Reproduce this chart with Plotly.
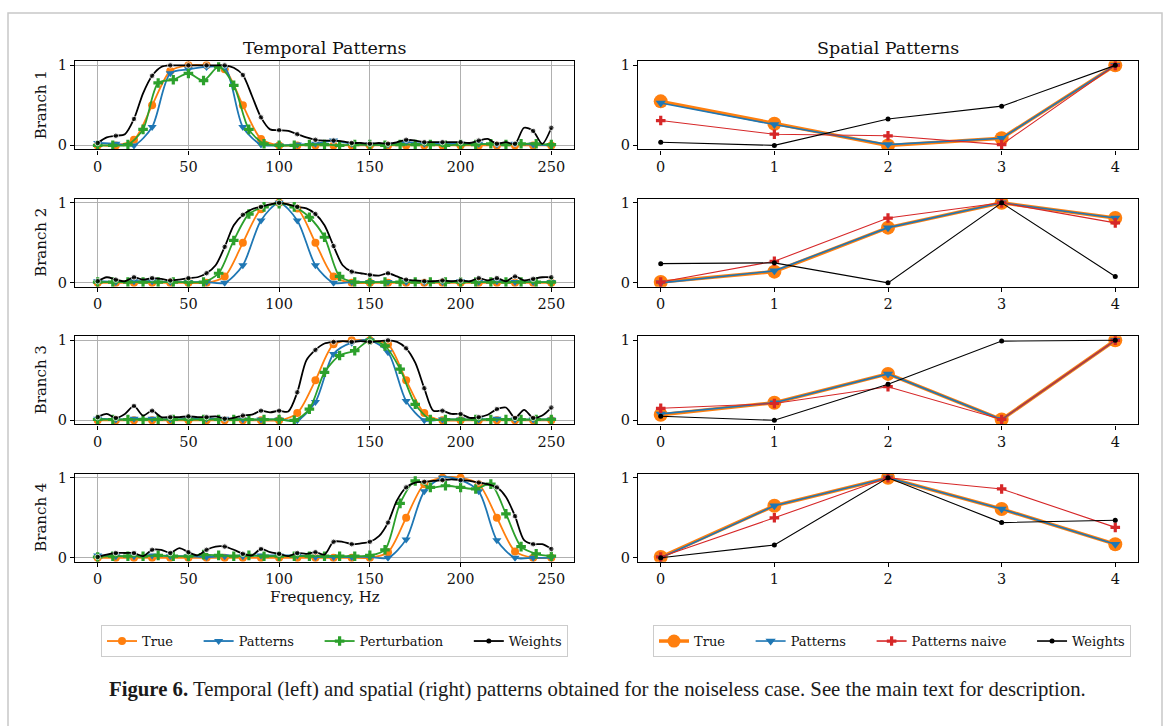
import plotly.graph_objects as go

# ---------------- data ----------------
FREQ_10 = list(range(0, 251, 10))          # marker grid for True / Patterns
FREQ_5 = list(range(0, 251, 5))            # Weights samples (markers every 10 Hz)
FREQ_PERT = [round(i * 250 / 30, 3) for i in range(31)]  # Perturbation samples
SENSORS = [0, 1, 2, 3, 4]
FREQ_TICKS = [0, 50, 100, 150, 200, 250]
BRANCHES = ["Branch 1", "Branch 2", "Branch 3", "Branch 4"]

# Temporal patterns, branch 1
TRUE_T1 = [0, 0, 0.07, 0.5, 0.93, 1, 1, 0.95, 0.5, 0.08, 0, 0, 0, 0, 0, 0, 0, 0, 0, 0, 0, 0, 0, 0, 0, 0]
PAT_T1 = [0.03, 0.02, 0.0, 0.23, 0.9, 0.95, 0.98, 0.97, 0.23, 0.01, 0.0, 0.01, 0.02, 0.06, 0.02, 0.01,
          0.01, 0.04, 0.02, 0.02, 0.02, 0.02, 0.01, 0.02, 0.01, 0.0]
PERT_T1 = [0.0, 0.0, 0.01, 0.2, 0.78, 0.82, 0.9, 0.81, 0.98, 0.75, 0.2, 0.02, 0.0, 0.0, 0.01, 0.01,
           0.0, 0.01, 0.01, 0.0, 0.01, 0.01, 0.01, 0.0, 0.01, 0.01, 0.02, 0.01, 0.02, 0.02, 0.01]
W_T1 = [0.03, 0.1, 0.12, 0.14, 0.33, 0.65, 0.87, 0.98, 1.0, 1.0, 1.0, 1.0, 1.0, 1.0, 1.0, 0.97, 0.88,
        0.62, 0.35, 0.2, 0.19, 0.18, 0.14, 0.1, 0.07, 0.06, 0.06, 0.05, 0.03, 0.03, 0.02, 0.03, 0.02,
        0.04, 0.07, 0.06, 0.04, 0.04, 0.04, 0.04, 0.04, 0.03, 0.06, 0.08, 0.02, 0.04, 0.02, 0.22, 0.18,
        0.02, 0.22]

# branch 2
TRUE_T2 = [0, 0, 0, 0, 0, 0, 0, 0.08, 0.5, 0.92, 1, 0.93, 0.5, 0.08, 0, 0, 0, 0, 0, 0, 0, 0, 0, 0, 0, 0]
PAT_T2 = [0.02, 0.01, 0.02, 0.02, 0.01, 0.01, 0.01, 0.0, 0.22, 0.78, 1.0, 0.78, 0.22, 0.0, 0.01, 0.01,
          0.01, 0.01, 0.01, 0.01, 0.02, 0.01, 0.02, 0.01, 0.01, 0.01]
PERT_T2 = [0.01, 0.01, 0.01, 0.01, 0.01, 0.01, 0.01, 0.01, 0.12, 0.53, 0.86, 0.95, 0.99, 0.95, 0.82,
           0.57, 0.08, 0.01, 0.01, 0.01, 0.01, 0.01, 0.01, 0.01, 0.01, 0.01, 0.01, 0.01, 0.01, 0.01, 0.01]
W_T2 = [0.02, 0.07, 0.04, 0.02, 0.07, 0.04, 0.06, 0.05, 0.03, 0.04, 0.06, 0.07, 0.12, 0.22, 0.45, 0.72,
        0.85, 0.92, 0.95, 0.98, 1.0, 0.98, 0.95, 0.93, 0.86, 0.72, 0.46, 0.22, 0.14, 0.12, 0.1, 0.09,
        0.12, 0.08, 0.04, 0.03, 0.02, 0.02, 0.03, 0.02, 0.03, 0.02, 0.06, 0.03, 0.06, 0.02, 0.08, 0.03,
        0.05, 0.07, 0.07]

# branch 3
TRUE_T3 = [0, 0, 0, 0, 0, 0, 0, 0, 0, 0, 0, 0.09, 0.5, 0.95, 1, 1, 0.95, 0.5, 0.09, 0, 0, 0, 0, 0, 0, 0]
PAT_T3 = [0.02, 0.01, 0.02, 0.02, 0.01, 0.02, 0.02, 0.02, 0.01, 0.01, 0.01, 0.0, 0.23, 0.83, 0.97, 1.0,
          0.85, 0.24, 0.0, 0.01, 0.01, 0.01, 0.02, 0.01, 0.01, 0.01]
PERT_T3 = [0.01, 0.01, 0.01, 0.01, 0.01, 0.01, 0.01, 0.01, 0.01, 0.01, 0.01, 0.01, 0.01, 0.0, 0.14, 0.6,
           0.81, 0.87, 1.0, 0.93, 0.64, 0.2, 0.01, 0.01, 0.01, 0.01, 0.01, 0.01, 0.01, 0.01, 0.01]
W_T3 = [0.04, 0.08, 0.03, 0.08, 0.18, 0.06, 0.12, 0.04, 0.04, 0.04, 0.05, 0.04, 0.04, 0.05, 0.02, 0.03,
        0.06, 0.07, 0.12, 0.1, 0.12, 0.11, 0.35, 0.75, 0.88, 0.96, 0.98, 0.99, 0.98, 0.99, 0.98, 0.99,
        1.0, 0.98, 0.9, 0.72, 0.4, 0.12, 0.12, 0.08, 0.08, 0.03, 0.04, 0.07, 0.14, 0.16, 0.03, 0.13,
        0.03, 0.06, 0.16]

# branch 4
TRUE_T4 = [0, 0, 0, 0, 0, 0, 0, 0, 0, 0, 0, 0, 0, 0, 0, 0, 0.07, 0.5, 0.92, 1, 1, 0.92, 0.5, 0.08, 0, 0]
PAT_T4 = [0.03, 0.02, 0.02, 0.03, 0.02, 0.02, 0.01, 0.02, 0.02, 0.03, 0.03, 0.03, 0.01, 0.01, 0.01, 0.01,
          0.0, 0.23, 0.83, 1.0, 0.97, 0.83, 0.22, 0.0, 0.0, 0.0]
PERT_T4 = [0.01, 0.02, 0.02, 0.02, 0.03, 0.02, 0.02, 0.04, 0.03, 0.02, 0.03, 0.02, 0.02, 0.02, 0.02, 0.02,
           0.02, 0.02, 0.03, 0.1, 0.68, 0.96, 0.88, 0.9, 0.88, 0.86, 0.92, 0.55, 0.14, 0.05, 0.02]
W_T4 = [0.01, 0.04, 0.06, 0.06, 0.06, 0.02, 0.1, 0.1, 0.06, 0.12, 0.07, 0.03, 0.1, 0.14, 0.14, 0.1, 0.05,
        0.03, 0.11, 0.07, 0.05, 0.02, 0.06, 0.05, 0.07, 0.04, 0.2, 0.2, 0.17, 0.18, 0.2, 0.27, 0.44,
        0.72, 0.88, 0.94, 0.95, 0.96, 0.97, 0.98, 0.97, 0.96, 0.94, 0.92, 0.88, 0.76, 0.52, 0.22, 0.17,
        0.17, 0.11]

# Spatial patterns
TRUE_S1 = [0.55, 0.27, 0.0, 0.09, 1.0]
PAT_S1 = [0.53, 0.26, 0.01, 0.09, 1.0]
NAIVE_S1 = [0.31, 0.14, 0.12, 0.01, 1.0]
W_S1 = [0.04, 0.0, 0.33, 0.49, 1.0]

TRUE_S2 = [0.01, 0.14, 0.69, 1.0, 0.81]
PAT_S2 = [0.0, 0.15, 0.69, 1.0, 0.81]
NAIVE_S2 = [0.01, 0.27, 0.81, 1.0, 0.75]
W_S2 = [0.24, 0.25, 0.0, 1.0, 0.08]

TRUE_S3 = [0.07, 0.22, 0.58, 0.01, 1.0]
PAT_S3 = [0.08, 0.22, 0.58, 0.01, 1.0]
NAIVE_S3 = [0.15, 0.21, 0.42, 0.01, 1.0]
W_S3 = [0.05, 0.0, 0.45, 0.99, 1.0]

TRUE_S4 = [0.01, 0.65, 1.0, 0.61, 0.17]
PAT_S4 = [0.0, 0.65, 1.0, 0.61, 0.17]
NAIVE_S4 = [0.01, 0.5, 1.0, 0.86, 0.38]
W_S4 = [0.0, 0.16, 1.0, 0.44, 0.47]

TEMPORAL = [(TRUE_T1, PAT_T1, PERT_T1, W_T1), (TRUE_T2, PAT_T2, PERT_T2, W_T2),
            (TRUE_T3, PAT_T3, PERT_T3, W_T3), (TRUE_T4, PAT_T4, PERT_T4, W_T4)]
SPATIAL = [(TRUE_S1, PAT_S1, NAIVE_S1, W_S1), (TRUE_S2, PAT_S2, NAIVE_S2, W_S2),
           (TRUE_S3, PAT_S3, NAIVE_S3, W_S3), (TRUE_S4, PAT_S4, NAIVE_S4, W_S4)]

# ---------------- style ----------------
W, H = 1170, 726
ORANGE, BLUE, GREEN, RED, BLACK = "#ff7f0e", "#1f77b4", "#2ca02c", "#d62728", "#000000"
FONT = "DejaVu Serif"
ROWS_PX = [(58, 147), (197, 286), (336, 425), (475, 564)]
LEFT_DOM = [75 / W, 574 / W]
RIGHT_DOM = [638 / W, 1138 / W]
PAD = "\u00a0" * 5

fig = go.Figure()
layout_axes = {}


def axname(i, letter):
    return f"{letter}axis" if i == 1 else f"{letter}axis{i}"


def ref(i, letter):
    return letter if i == 1 else f"{letter}{i}"


common_axis = dict(showline=True, mirror=True, linecolor="black", linewidth=1.4, ticks="outside",
                   ticklen=4, tickwidth=1.1, tickcolor="black", zeroline=False,
                   tickfont=dict(family=FONT, size=14.5, color="#111"))

for r in range(4):
    top, bot = ROWS_PX[r]
    ydom = [1 - bot / H, 1 - top / H]
    it = 2 * r + 1
    isp = 2 * r + 2
    layout_axes[axname(it, "x")] = dict(common_axis, domain=LEFT_DOM, range=[-12.5, 262.5],
                                        tickvals=FREQ_TICKS, showgrid=True, gridcolor="#b0b0b0",
                                        gridwidth=1.2, anchor=ref(it, "y"))
    layout_axes[axname(it, "y")] = dict(common_axis, domain=ydom, range=[-0.05, 1.05], tickvals=[0, 1],
                                        showgrid=True, gridcolor="#b0b0b0", gridwidth=1.2,
                                        anchor=ref(it, "x"))
    layout_axes[axname(isp, "x")] = dict(common_axis, domain=RIGHT_DOM, range=[-0.2, 4.2],
                                         tickvals=SENSORS, showgrid=False, anchor=ref(isp, "y"))
    layout_axes[axname(isp, "y")] = dict(common_axis, domain=ydom, range=[-0.05, 1.05], tickvals=[0, 1],
                                         showgrid=False, anchor=ref(isp, "x"))

    tr, pa, pe, wt = TEMPORAL[r]
    xa, ya = ref(it, "x"), ref(it, "y")
    fig.add_trace(go.Scatter(x=FREQ_10, y=tr, mode="lines+markers", line=dict(color=ORANGE, width=1.8, shape="spline", smoothing=0.8),
                             marker=dict(symbol="circle", size=8, color=ORANGE), xaxis=xa, yaxis=ya, showlegend=False))
    fig.add_trace(go.Scatter(x=FREQ_10, y=pa, mode="lines+markers", line=dict(color=BLUE, width=1.8, shape="spline", smoothing=0.8),
                             marker=dict(symbol="triangle-down", size=8, color=BLUE), xaxis=xa, yaxis=ya, showlegend=False))
    fig.add_trace(go.Scatter(x=FREQ_PERT, y=pe, mode="lines+markers", line=dict(color=GREEN, width=1.8, shape="spline", smoothing=0.8),
                             marker=dict(symbol="cross", size=8, color=GREEN), xaxis=xa, yaxis=ya, showlegend=False))
    wsizes = [5.5 if f % 10 == 0 else 0 for f in FREQ_5]
    fig.add_trace(go.Scatter(x=FREQ_5, y=wt, mode="lines+markers", line=dict(color=BLACK, width=1.8, shape="spline", smoothing=0.8),
                             marker=dict(symbol="circle", size=wsizes, color=BLACK), xaxis=xa, yaxis=ya, showlegend=False))

    st, sp, sn, sw = SPATIAL[r]
    xa, ya = ref(isp, "x"), ref(isp, "y")
    fig.add_trace(go.Scatter(x=SENSORS, y=st, mode="lines+markers", line=dict(color=ORANGE, width=3.5),
                             marker=dict(symbol="circle", size=14, color=ORANGE), xaxis=xa, yaxis=ya, showlegend=False))
    fig.add_trace(go.Scatter(x=SENSORS, y=sp, mode="lines+markers", line=dict(color=BLUE, width=1.6),
                             marker=dict(symbol="triangle-down", size=9, color=BLUE), xaxis=xa, yaxis=ya, showlegend=False))
    fig.add_trace(go.Scatter(x=SENSORS, y=sn, mode="lines+markers", line=dict(color=RED, width=1.1),
                             marker=dict(symbol="cross", size=8, color=RED), xaxis=xa, yaxis=ya, showlegend=False))
    fig.add_trace(go.Scatter(x=SENSORS, y=sw, mode="lines+markers", line=dict(color=BLACK, width=1.1),
                             marker=dict(symbol="circle", size=5, color=BLACK), xaxis=xa, yaxis=ya, showlegend=False))

# legend entries
left_items = [("True" + PAD, ORANGE, "circle", 8, 1.8), ("Patterns" + PAD, BLUE, "triangle-down", 8, 1.8),
              ("Perturbation" + PAD, GREEN, "cross", 8, 1.8), ("Weights", BLACK, "circle", 5, 1.8)]
for name, col, sym, sz, lw in left_items:
    fig.add_trace(go.Scatter(x=[None], y=[None], mode="lines+markers", name=name, legend="legend",
                             line=dict(color=col, width=lw), marker=dict(symbol=sym, size=sz, color=col),
                             xaxis="x", yaxis="y"))
right_items = [("True" + PAD, ORANGE, "circle", 13, 3.5), ("Patterns" + PAD, BLUE, "triangle-down", 9, 1.6),
               ("Patterns naive" + PAD, RED, "cross", 8, 1.6), ("Weights", BLACK, "circle", 5, 1.6)]
for name, col, sym, sz, lw in right_items:
    fig.add_trace(go.Scatter(x=[None], y=[None], mode="lines+markers", name=name, legend="legend2",
                             line=dict(color=col, width=lw), marker=dict(symbol=sym, size=sz, color=col),
                             xaxis="x2", yaxis="y2"))

legend_common = dict(orientation="h", xanchor="left", yanchor="top", y=1 - 628 / H,
                     bordercolor="#cccccc", borderwidth=1, bgcolor="white",
                     font=dict(family=FONT, size=13, color="#111"))

annotations = [
    dict(text="Temporal Patterns", x=(75 + 574) / 2 / W, y=1 - 44 / H, xref="paper", yref="paper",
         showarrow=False, font=dict(family=FONT, size=17.5, color="#111"), xanchor="center", yanchor="middle"),
    dict(text="Spatial Patterns", x=(638 + 1138) / 2 / W, y=1 - 44 / H, xref="paper", yref="paper",
         showarrow=False, font=dict(family=FONT, size=17.5, color="#111"), xanchor="center", yanchor="middle"),
    dict(text="Frequency, Hz", x=(75 + 574) / 2 / W, y=1 - 600 / H, xref="paper", yref="paper",
         showarrow=False, font=dict(family=FONT, size=15, color="#111"), xanchor="center", yanchor="middle"),
    dict(text="<b>Figure 6.</b> Temporal (left) and spatial (right) patterns obtained for the noiseless case. "
              "See the main text for description.",
         x=597 / W, y=1 - 693 / H, xref="paper", yref="paper", showarrow=False,
         font=dict(family="Liberation Serif", size=20.75, color="#1a1a1a"), xanchor="center", yanchor="middle"),
]
for r, lab in enumerate(BRANCHES):
    top, bot = ROWS_PX[r]
    annotations.append(dict(text=lab, x=41 / W, y=1 - (top + bot) / 2 / H, xref="paper", yref="paper",
                            showarrow=False, textangle=-90, font=dict(family=FONT, size=15, color="#111"),
                            xanchor="center", yanchor="middle"))

fig.update_layout(
    width=W, height=H, margin=dict(l=0, r=0, t=0, b=0),
    paper_bgcolor="white", plot_bgcolor="white",
    legend=dict(legend_common, x=101 / W),
    legend2=dict(legend_common, x=653 / W),
    annotations=annotations,
    shapes=[dict(type="rect", xref="paper", yref="paper", x0=8 / W, x1=1162 / W, y0=-0.1, y1=1 - 9 / H,
                 line=dict(color="#c8c8c8", width=1.5), fillcolor="rgba(0,0,0,0)", layer="below")],
    **layout_axes,
)

fig.write_html("out.html", config={"displayModeBar": False},
               post_script="document.body.style.margin='0px';document.body.style.overflow='hidden';")
